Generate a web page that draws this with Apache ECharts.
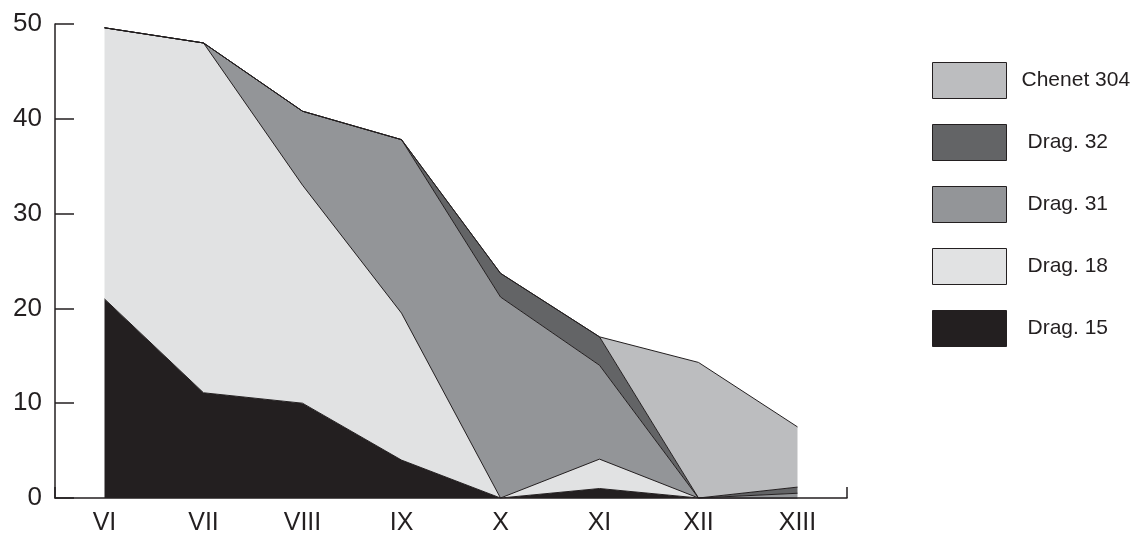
<!DOCTYPE html>
<html>
<head>
<meta charset="utf-8">
<script src="https://cdn.jsdelivr.net/npm/echarts@6/dist/echarts.min.js"></script>
<style>
  html, body { margin: 0; padding: 0; background: #fff; }
  #chart { width: 1133px; height: 541px; }
</style>
</head>
<body>
<div id="chart"></div>
<script>
// periods on the x axis
const periods = ['VI', 'VII', 'VIII', 'IX', 'X', 'XI', 'XII', 'XIII'];

// stacked values, bottom to top
const drag15 = [21, 11.1, 10, 4, 0, 1, 0, 0];
const drag18 = [28.6, 36.9, 23, 15.5, 0, 3.1, 0, 0];
const drag31 = [0, 0, 7.8, 18.3, 21.2, 9.9, 0, 0.5];
const drag32 = [0, 0, 0, 0, 2.5, 3.0, 0, 0.65];
const chenet304 = [0, 0, 0, 0, 0, 0, 14.3, 6.35];

const ink = '#231f20';

function areaSeries(name, data, color) {
  return {
    name: name, type: 'line', stack: 'total', data: data,
    symbol: 'none', color: color,
    lineStyle: { color: ink, width: 1 },
    areaStyle: { color: color, opacity: 1 },
    itemStyle: { color: color, borderColor: ink, borderWidth: 1 }
  };
}

const chart = echarts.init(document.getElementById('chart'), null, { renderer: 'canvas' });
chart.setOption({
  backgroundColor: '#ffffff',
  animation: false,
  textStyle: { fontFamily: '"Liberation Sans", Arial, sans-serif' },
  grid: { left: 55, right: 286, top: 24, bottom: 43 },
  legend: {
    orient: 'vertical', left: 932, top: 62, padding: 0,
    icon: 'rect', itemWidth: 74, itemHeight: 36, itemGap: 25,
    itemStyle: { borderColor: ink, borderWidth: 1 },
    textStyle: { fontSize: 21, color: ink, padding: [0, 0, 0, 16] },
    data: [
      { name: 'Chenet 304', textStyle: { padding: [0, 0, 0, 10] } },
      'Drag. 32', 'Drag. 31', 'Drag. 18', 'Drag. 15'
    ]
  },
  xAxis: {
    type: 'category', data: periods, boundaryGap: true,
    axisLine: { lineStyle: { color: ink, width: 1.5 } },
    axisTick: { show: true, inside: true, length: 11, lineStyle: { color: ink, width: 1.5 },
      interval: function (i) { return i === periods.length - 1; } },
    axisLabel: { interval: 0, fontSize: 25, color: ink, margin: 13 },
    splitLine: { show: false }
  },
  yAxis: {
    type: 'value', min: 0, max: 50, interval: 10,
    axisLine: { show: true, lineStyle: { color: ink, width: 1.5 } },
    axisTick: { show: true, inside: true, length: 19, lineStyle: { color: ink, width: 1.5 } },
    axisLabel: { fontSize: 26, color: ink, margin: 13 },
    splitLine: { show: false }
  },
  series: [
    areaSeries('Drag. 15', drag15, '#231f20'),
    areaSeries('Drag. 18', drag18, '#e1e2e3'),
    areaSeries('Drag. 31', drag31, '#939598'),
    areaSeries('Drag. 32', drag32, '#636466'),
    areaSeries('Chenet 304', chenet304, '#bcbdbf')
  ]
});
</script>
</body>
</html>
